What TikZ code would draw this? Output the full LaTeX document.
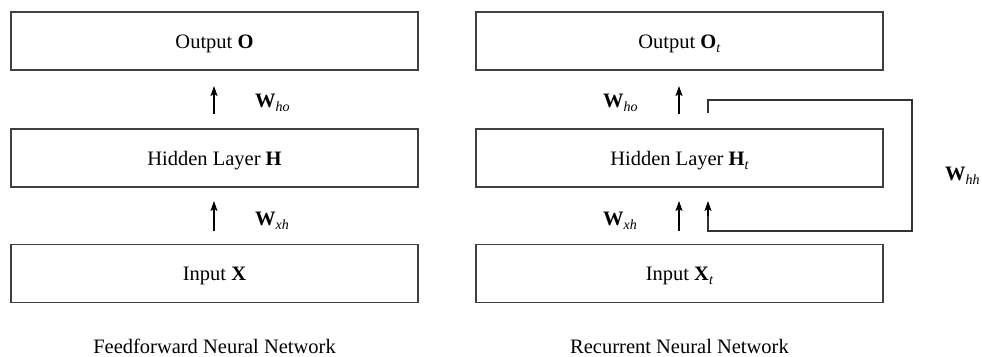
\documentclass[tikz,border=0pt]{standalone}
\usepackage{fontspec}
\setmainfont{Liberation Serif}
\usetikzlibrary{arrows.meta}
\newcommand\mysub[1]{\raisebox{-0.45ex}{\fontsize{14}{14}\selectfont\textit{#1}}}
\begin{document}
\begin{tikzpicture}[x=1pt,y=-1pt,
  layerbox/.style={draw=black!75,line width=1.3pt,minimum width=407pt,minimum height=58pt,inner sep=0pt,
    text height=14pt,text depth=0pt,font=\fontsize{20.5}{24}\selectfont},
  lbl/.style={anchor=base west,inner sep=0pt,font=\fontsize{20.5}{24}\selectfont},
  captxt/.style={anchor=base,inner sep=0pt,font=\fontsize{20.5}{24}\selectfont},
  arr/.style={-{Stealth[length=10pt,width=7pt,inset=2pt]},line width=1.1pt,black},
  fb/.style={draw=black!80,line width=1.2pt}]
\useasboundingbox (0,0) rectangle (982,356);
% feedforward
\node[layerbox] (fo) at (214.5,41) {Output \textbf{O}};
\node[layerbox] (fh) at (214.5,158) {Hidden Layer \textbf{H}};
\node[layerbox] (fi) at (214.5,273.5) {Input \textbf{X}};
% recurrent
\node[layerbox] (ro) at (679.5,41) {Output \textbf{O}\mysub{t}};
\node[layerbox] (rh) at (679.5,158) {Hidden Layer \textbf{H}\mysub{t}};
\node[layerbox] (ri) at (679.5,273.5) {Input \textbf{X}\mysub{t}};
% arrow endpoints
\coordinate (fa1s) at (214,114); \coordinate (fa1e) at (214,86);
\coordinate (fa2s) at (214,231); \coordinate (fa2e) at (214,201);
\coordinate (ra1s) at (679,114); \coordinate (ra1e) at (679,86);
\coordinate (ra2s) at (679,231); \coordinate (ra2e) at (679,201);
\coordinate (fbs) at (708,113); \coordinate (fbA) at (912,100);
\coordinate (fbB) at (912,231); \coordinate (fbe) at (708,201);
\draw[arr] (fa1s) -- (fa1e);
\draw[arr] (fa2s) -- (fa2e);
\draw[arr] (ra1s) -- (ra1e);
\draw[arr] (ra2s) -- (ra2e);
\draw[fb] (fbs) |- (fbA) -- (fbB) -| (708,215);
\draw[arr] (708,216) -- (fbe);
% labels
\node[lbl] (lho) at (255,107) {\textbf{W}\mysub{ho}};
\node[lbl] (lxh) at (255,225) {\textbf{W}\mysub{xh}};
\node[lbl] (rho) at (603,107) {\textbf{W}\mysub{ho}};
\node[lbl] (rxh) at (603,225) {\textbf{W}\mysub{xh}};
\node[lbl] (rhh) at (945,180) {\textbf{W}\mysub{hh}};
% captions
\node[captxt] (c1) at (214.5,353) {Feedforward Neural Network};
\node[captxt] (c2) at (679.5,353) {Recurrent Neural Network};
\end{tikzpicture}
\end{document}
